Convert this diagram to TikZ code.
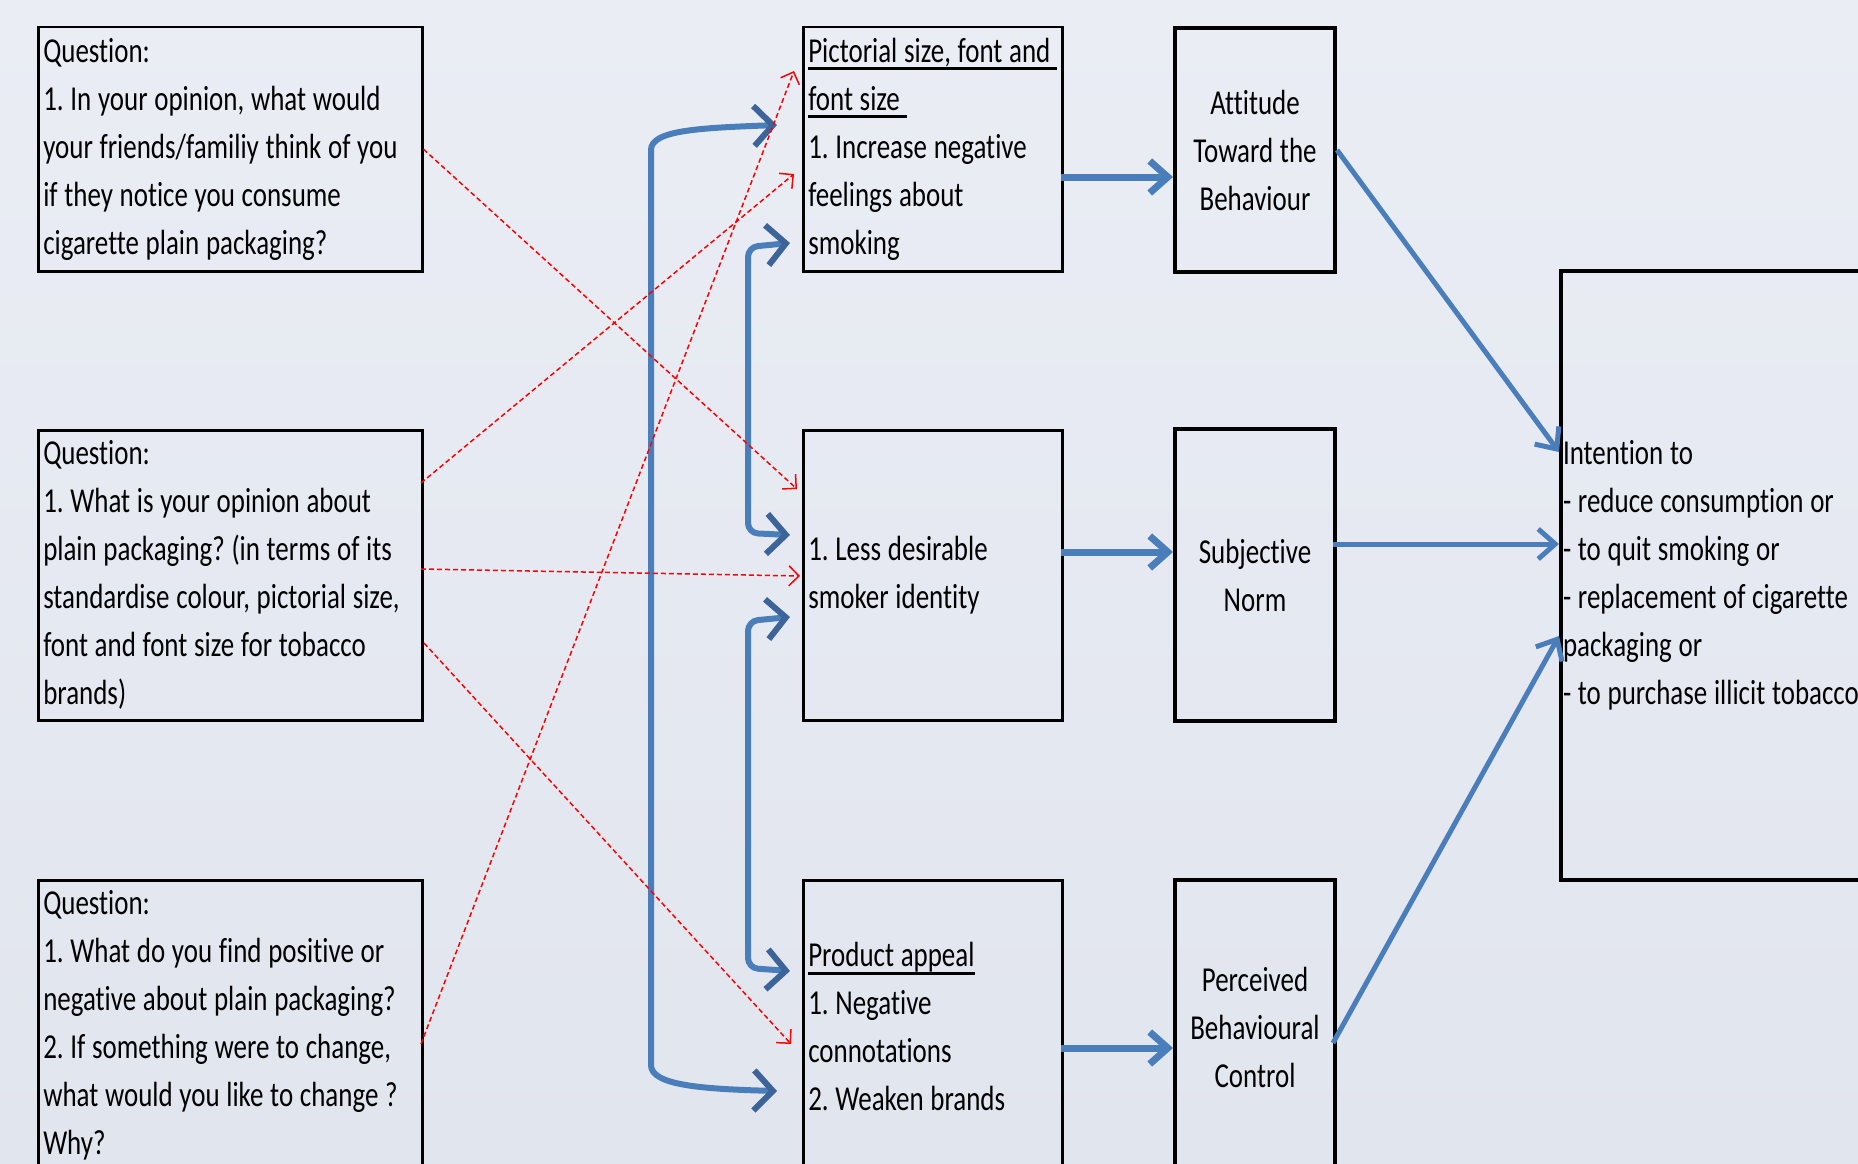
\documentclass[tikz,border=0pt]{standalone}
\usepackage{fontspec}
\setmainfont{Carlito}[FakeStretch=0.77,Ligatures=NoCommon]
\usetikzlibrary{arrows.meta}
\definecolor{bgtop}{RGB}{234,237,244}
\definecolor{bgbot}{RGB}{225,229,238}
\definecolor{arrblue}{RGB}{74,126,187}
\definecolor{headblue}{RGB}{60,100,152}
\definecolor{dashred}{RGB}{255,0,0}
\newcommand\myul[1]{\leavevmode\setbox0=\hbox{#1}\rlap{\rule[-8pt]{\wd0}{3pt}}\box0}
\newcommand\boxfont{\fontsize{35}{48}\selectfont\frenchspacing}
\frenchspacing
\begin{document}
\begin{tikzpicture}[x=1pt,y=-1pt,
  boxbase/.style={draw=black,line width=2.5pt,rectangle,anchor=north west,inner xsep=5pt,inner ysep=0pt,align=left,font=\boxfont,text=black,execute at begin node=\spaceskip6.7pt\xspaceskip6.7pt\relax},
  qframe/.style={boxbase,minimum width=384pt,text width=374pt},
  pframe/.style={boxbase,minimum width=259pt,text width=249pt},
  tframe/.style={boxbase,line width=4pt,minimum width=160pt,text width=150pt,align=center},
  iframe/.style={boxbase,line width=4pt,inner xsep=2pt,minimum width=420pt,text width=416pt},
  flow/.style={draw=arrblue,line width=7pt,-{Straight Barb[length=18pt,width=32pt]}},
  flowthin/.style={draw=arrblue,line width=5pt,-{Straight Barb[length=17pt,width=30pt]}},
  bracket/.style={draw=arrblue,line width=6pt,{Straight Barb[length=19pt,width=40pt,color=headblue]}-{Straight Barb[length=19pt,width=40pt,color=headblue]}},
  reddash/.style={draw=dashred,line width=1.5pt,dash pattern=on 5pt off 3pt,-{Straight Barb[length=10pt,width=20pt]}}
]
\useasboundingbox (0,0) rectangle (1858,1164);
\clip (0,0) rectangle (1858,1164);
\shade[top color=bgtop,bottom color=bgbot] (0,0) rectangle (1858,1164);

% boxes
\node[qframe,minimum height=244pt] (Q1) at (37,26) {Question:\\1. In your opinion, what would\\your friends/familiy think of you\\if they notice you consume\\cigarette plain packaging?};
\node[qframe,minimum height=290pt] (Q2) at (37,429) {Question:\\1. What is your opinion about\\plain packaging? (in terms of its\\standardise colour, pictorial size,\\font and font size for tobacco\\brands)};
\node[qframe,minimum height=291pt] (Q3) at (37,879) {Question:\\1. What do you find positive or\\negative about plain packaging?\\2. If something were to change,\\what would you like to change ?\\Why?};

\node[pframe,minimum height=244pt] (P1) at (802,26) {\myul{Pictorial size, font and\ }\\\myul{font size\ }\\1. Increase negative\\feelings about\\smoking};
\node[pframe,minimum height=290pt] (P2) at (802,429) {1. Less desirable\\smoker identity};
\node[pframe,minimum height=293pt] (P3) at (802,879) {\myul{Product appeal}\\1. Negative\\connotations\\2. Weaken brands};

\node[tframe,minimum height=244pt] (A) at (1173,26) {Attitude\\Toward the\\Behaviour};
\node[tframe,minimum height=292pt] (S) at (1173,427) {Subjective\\Norm};
\node[tframe,minimum height=294pt] (PBC) at (1173,878) {Perceived\\Behavioural\\Control};

\node[iframe,minimum height=609pt] (I) at (1559,269) {Intention to\\- reduce consumption or\\- to quit smoking or\\- replacement of cigarette\\packaging or\\- to purchase illicit tobacco};

% connector end points
\coordinate (pa1) at (1061,177); \coordinate (pa2) at (1173,177);
\coordinate (ps1) at (1061,552); \coordinate (ps2) at (1173,552);
\coordinate (pp1) at (1061,1048); \coordinate (pp2) at (1173,1048);
\coordinate (ai) at (1559,452);
\coordinate (si1) at (1333,544); \coordinate (si2) at (1559,544);
\coordinate (pi1) at (1333,1043); \coordinate (pi2) at (1559,636);

\coordinate (o1) at (777,125); \coordinate (o2) at (777,1091);
\coordinate (i1) at (790,243); \coordinate (i2) at (790,535);
\coordinate (i3) at (790,617); \coordinate (i4) at (790,971);

\coordinate (r1e) at (797,489);
\coordinate (r2s) at (421,483); \coordinate (r2e) at (794,174);
\coordinate (r3s) at (421,569); \coordinate (r3e) at (800,576);
\coordinate (r4s) at (424,643); \coordinate (r4e) at (791,1044);
\coordinate (r5s) at (421,1044); \coordinate (r5e) at (794,71);

% blue flows
\draw[flow] (pa1) -- (pa2);
\draw[flow] (ps1) -- (ps2);
\draw[flow] (pp1) -- (pp2);
\draw[flowthin] (A.east) -- (ai);
\draw[flowthin] (si1) -- (si2);
\draw[flowthin] (pi1) -- (pi2);

% brackets
\draw[bracket] (o1) .. controls (700,128) and (651,130) .. (651,150) -- (651,1065) .. controls (651,1085) and (700,1089) .. (o2);
\draw[bracket,rounded corners=10pt] (i1) -- (748,247) -- (748,533) -- (i2);
\draw[bracket,rounded corners=10pt] (i3) -- (748,621) -- (748,968) -- (i4);

% red dashed
\draw[reddash] (Q1.east) -- (r1e);
\draw[reddash] (r2s) -- (r2e);
\draw[reddash] (r3s) -- (r3e);
\draw[reddash] (r4s) -- (r4e);
\draw[reddash] (r5s) -- (r5e);
\end{tikzpicture}
\end{document}
